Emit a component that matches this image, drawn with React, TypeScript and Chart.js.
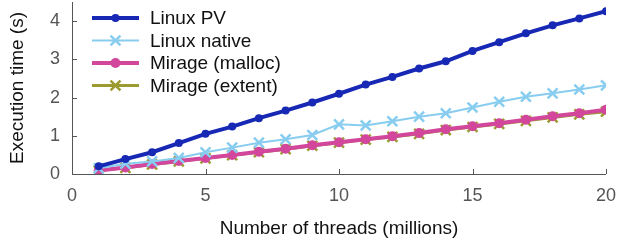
import React, { useEffect, useRef } from "react";
import { Chart, registerables } from "chart.js";

Chart.register(...registerables);

const threads = [1, 2, 3, 4, 5, 6, 7, 8, 9, 10, 11, 12, 13, 14, 15, 16, 17, 18, 19, 20];
const linuxPV = [0.2, 0.39, 0.57, 0.81, 1.05, 1.24, 1.46, 1.66, 1.87, 2.1, 2.34, 2.54, 2.76, 2.95, 3.22, 3.45, 3.68, 3.89, 4.07, 4.26];
const linuxNative = [0.15, 0.27, 0.33, 0.42, 0.57, 0.69, 0.82, 0.91, 1.02, 1.3, 1.27, 1.38, 1.5, 1.59, 1.74, 1.89, 2.02, 2.11, 2.21, 2.32];
const mirageMalloc = [0.09, 0.17, 0.26, 0.34, 0.42, 0.5, 0.58, 0.66, 0.75, 0.83, 0.91, 0.99, 1.07, 1.17, 1.25, 1.33, 1.42, 1.51, 1.59, 1.68];
const mirageExtent = [0.09, 0.16, 0.25, 0.33, 0.41, 0.49, 0.57, 0.65, 0.74, 0.82, 0.9, 0.97, 1.05, 1.15, 1.23, 1.31, 1.39, 1.48, 1.56, 1.63];
const xTicks = [0, 5, 10, 15, 20];
const yTicks = [0, 1, 2, 3, 4];

const FONT = "'Liberation Sans', Arial, Helvetica, sans-serif";
const AXIS_COLOR = "#555555";

const insideTicks = {
  id: "insideTicks",
  afterDraw(chart: any) {
    const { ctx, chartArea, scales } = chart;
    ctx.save();
    ctx.strokeStyle = AXIS_COLOR;
    ctx.lineWidth = 1;
    ctx.beginPath();
    ctx.moveTo(chartArea.left + 0.5, chartArea.top);
    ctx.lineTo(chartArea.left + 0.5, chartArea.bottom + 0.5);
    ctx.lineTo(chartArea.right, chartArea.bottom + 0.5);
    for (const v of xTicks) {
      const px = Math.round(scales.x.getPixelForValue(v)) + 0.5;
      ctx.moveTo(px, chartArea.bottom);
      ctx.lineTo(px, chartArea.bottom - 5);
    }
    for (const v of yTicks) {
      const py = Math.round(scales.y.getPixelForValue(v)) + 0.5;
      ctx.moveTo(chartArea.left, py);
      ctx.lineTo(chartArea.left + 5, py);
    }
    ctx.stroke();
    ctx.restore();
  },
};

const lineLegend = {
  id: "lineLegend",
  afterDraw(chart: any) {
    const { ctx, chartArea } = chart;
    const x0 = chartArea.left + 20;
    const len = 47;
    const y0 = chartArea.top + 16;
    const gap = 22.5;
    ctx.save();
    chart.data.datasets.forEach((ds: any, i: number) => {
      const y = y0 + i * gap;
      ctx.strokeStyle = ds.borderColor;
      ctx.lineWidth = ds.borderWidth;
      ctx.beginPath();
      ctx.moveTo(x0, y);
      ctx.lineTo(x0 + len, y);
      ctx.stroke();
      const cx = x0 + len / 2;
      const r = ds.pointRadius;
      if (ds.pointStyle === "circle") {
        ctx.fillStyle = ds.pointBackgroundColor;
        ctx.beginPath();
        ctx.arc(cx, y, r, 0, Math.PI * 2);
        ctx.fill();
      } else {
        const o = Math.cos(Math.PI / 4) * r;
        ctx.strokeStyle = ds.pointBorderColor;
        ctx.lineWidth = ds.pointBorderWidth;
        ctx.beginPath();
        ctx.moveTo(cx - o, y - o);
        ctx.lineTo(cx + o, y + o);
        ctx.moveTo(cx - o, y + o);
        ctx.lineTo(cx + o, y - o);
        ctx.stroke();
      }
      ctx.fillStyle = "#111111";
      ctx.font = `19px ${FONT}`;
      ctx.textBaseline = "middle";
      ctx.textAlign = "left";
      ctx.fillText(ds.label, x0 + len + 11, y + 1);
    });
    ctx.restore();
  },
};

export default function App() {
  const ref = useRef<HTMLCanvasElement | null>(null);
  useEffect(() => {
    if (!ref.current) return;
    const mk = (label: string, vals: number[], color: string, width: number, style: string, r: number, pbw: number) => ({
      label,
      data: threads.map((t, i) => ({ x: t, y: vals[i] })),
      borderColor: color,
      backgroundColor: color,
      borderWidth: width,
      pointStyle: style,
      pointRadius: r,
      pointBackgroundColor: color,
      pointBorderColor: color,
      pointBorderWidth: pbw,
      pointHoverRadius: r,
      tension: 0,
    });
    const chart = new Chart(ref.current, {
      type: "line",
      data: {
        datasets: [
          mk("Linux PV", linuxPV, "#1628b4", 4, "circle", 4, 0),
          mk("Linux native", linuxNative, "#88cdef", 2, "crossRot", 7, 2.5),
          mk("Mirage (malloc)", mirageMalloc, "#d2469c", 4, "circle", 5, 0),
          mk("Mirage (extent)", mirageExtent, "#9c9b30", 3, "crossRot", 7, 2.5),
        ] as any,
      },
      options: {
        animation: false,
        responsive: true,
        maintainAspectRatio: false,
        layout: { autoPadding: false, padding: { top: 2, right: 13, left: 0, bottom: 0 } },
        plugins: { legend: { display: false }, tooltip: { enabled: false } },
        scales: {
          x: {
            type: "linear",
            min: 0,
            max: 20,
            afterBuildTicks: (s: any) => {
              s.ticks = xTicks.map((v) => ({ value: v }));
            },
            afterFit: (s: any) => {
              s.height = 71;
              s.paddingLeft = 0;
              s.paddingRight = 0;
              s.paddingTop = 0;
              s.paddingBottom = 0;
            },
            grid: { display: false, drawTicks: false },
            border: { display: false },
            ticks: { color: AXIS_COLOR, font: { size: 18, family: FONT }, padding: 11, maxRotation: 0 },
            title: {
              display: true,
              text: "Number of threads (millions)",
              color: "#111111",
              font: { size: 19, family: FONT },
              padding: { top: 2, bottom: 5 },
            },
          },
          y: {
            type: "linear",
            min: 0,
            max: 4.5,
            afterBuildTicks: (s: any) => {
              s.ticks = yTicks.map((v) => ({ value: v }));
            },
            afterFit: (s: any) => {
              s.width = 72;
              s.paddingLeft = 0;
              s.paddingRight = 0;
              s.paddingTop = 0;
              s.paddingBottom = 0;
            },
            grid: { display: false, drawTicks: false },
            border: { display: false },
            ticks: { color: AXIS_COLOR, font: { size: 18, family: FONT }, padding: 12 },
            title: {
              display: true,
              text: "Execution time (s)",
              color: "#111111",
              font: { size: 19, family: FONT },
              padding: { top: 6, bottom: 4 },
            },
          },
        },
      } as any,
      plugins: [insideTicks, lineLegend],
    });
    return () => chart.destroy();
  }, []);
  return (
    <div style={{ position: "fixed", left: 0, top: 0, width: 619, height: 245, background: "#fff" }}>
      <canvas ref={ref} />
    </div>
  );
}
